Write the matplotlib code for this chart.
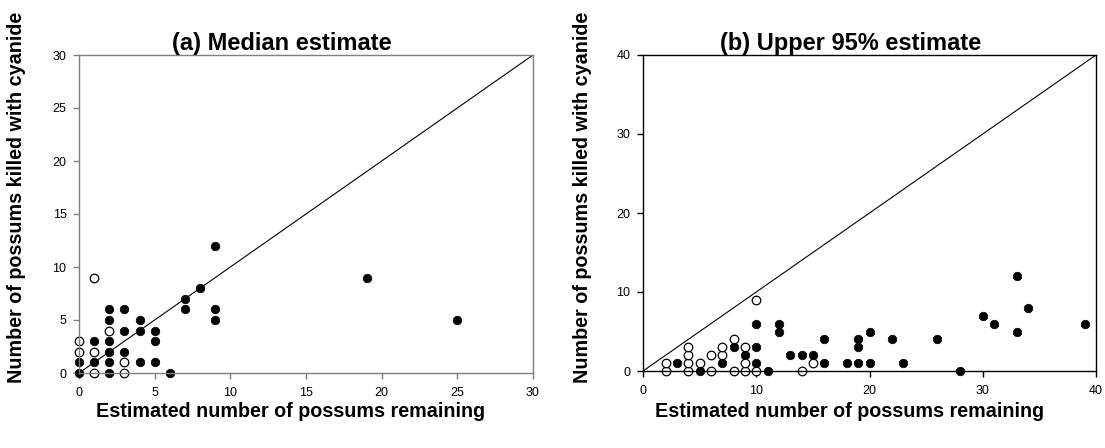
import matplotlib
matplotlib.use("Agg")
import matplotlib.pyplot as plt

plt.rcParams['font.family'] = ['Liberation Sans', 'DejaVu Sans']

# Panel (a): median estimate
a_filled_x = [0, 2, 6, 0, 1, 2, 4, 5, 2, 3, 1, 2, 5, 3, 4, 5, 2, 4, 9, 2, 3, 7, 9, 7, 8, 9, 19, 25]
a_filled_y = [0, 0, 0, 1, 1, 1, 1, 1, 2, 2, 3, 3, 3, 4, 4, 4, 5, 5, 5, 6, 6, 6, 6, 7, 8, 12, 9, 5]
a_open_x = [1, 3, 3, 0, 1, 0, 2, 1]
a_open_y = [0, 0, 1, 2, 2, 3, 4, 9]

# Panel (b): upper 95% estimate
b_filled_x = [5, 11, 28, 3, 7, 10, 16, 18, 19, 20, 23, 9, 13, 14, 15, 8, 10, 19,
              16, 19, 22, 26, 12, 20, 33, 10, 12, 31, 39, 30, 34, 33]
b_filled_y = [0, 0, 0, 1, 1, 1, 1, 1, 1, 1, 1, 2, 2, 2, 2, 3, 3, 3,
              4, 4, 4, 4, 5, 5, 5, 6, 6, 6, 6, 7, 8, 12]
b_open_x = [2, 4, 6, 8, 9, 10, 14, 2, 4, 5, 9, 15, 4, 6, 7, 4, 7, 9, 8, 10]
b_open_y = [0, 0, 0, 0, 0, 0, 0, 1, 1, 1, 1, 1, 2, 2, 2, 3, 3, 3, 4, 9]

a_ticks = [0, 5, 10, 15, 20, 25, 30]
b_ticks = [0, 10, 20, 30, 40]

titles = ["(a) Median estimate", "(b) Upper 95% estimate"]
xlabel = "Estimated number of possums remaining"
ylabel = "Number of possums killed with cyanide"

fig = plt.figure(figsize=(11.05, 4.48), dpi=100)
ax_a = fig.add_axes([79/1105, 1-373/448, (533-79)/1105, (373-55)/448])
ax_b = fig.add_axes([643/1105, 1-371/448, (1096-643)/1105, (371-55)/448])

panels = [
    (ax_a, a_filled_x, a_filled_y, a_open_x, a_open_y, a_ticks, '#7f7f7f'),
    (ax_b, b_filled_x, b_filled_y, b_open_x, b_open_y, b_ticks, 'black'),
]

for ax, fx, fy, ox, oy, ticks, sc in panels:
    lim = ticks[-1]
    ax.plot([0, lim], [0, lim], color='black', lw=0.8, zorder=1)
    ax.scatter(ox, oy, s=38, facecolor='white', edgecolor='black', linewidths=0.9,
               zorder=2, clip_on=False)
    ax.scatter(fx, fy, s=38, facecolor='black', edgecolor='black', linewidths=0.5,
               zorder=2, clip_on=False)
    ax.set_xlim(0, lim)
    ax.set_ylim(0, lim)
    ax.set_xticks(ticks)
    ax.set_yticks(ticks)
    for s in ax.spines.values():
        s.set_color(sc)
        s.set_linewidth(1.0)
        s.set_zorder(3)
    ax.tick_params(axis='both', direction='out', length=4, width=1.0, color=sc,
                   labelsize=9, top=False, right=False)
    ax.tick_params(axis='x', pad=6)
    ax.tick_params(axis='y', pad=5)

# Titles
fig.text(282/1105, 1-50/448, titles[0], ha='center', va='baseline', fontsize=17, fontweight='bold')
fig.text(851/1105, 1-50/448, titles[1], ha='center', va='baseline', fontsize=17, fontweight='bold')

# Axis labels
fig.text(291/1105, 1-411/448, xlabel, ha='center', va='center', fontsize=14.2, fontweight='bold')
fig.text(850/1105, 1-411/448, xlabel, ha='center', va='center', fontsize=14.2, fontweight='bold')
fig.text(17/1105, 1-197/448, ylabel, ha='center', va='center', rotation=90, fontsize=14.2, fontweight='bold')
fig.text(582/1105, 1-197/448, ylabel, ha='center', va='center', rotation=90, fontsize=14.2, fontweight='bold')

fig.savefig("out.png", dpi=100)
